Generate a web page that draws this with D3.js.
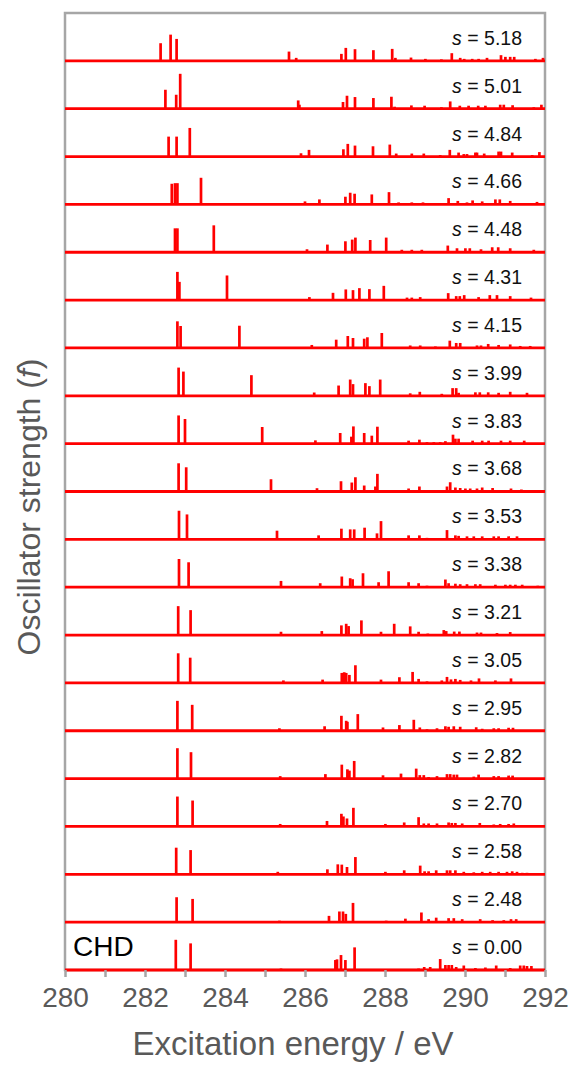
<!DOCTYPE html>
<html>
<head>
<meta charset="utf-8">
<script src="https://cdn.jsdelivr.net/npm/d3@7"></script>
<style>
  body { margin: 0; background: #fff; }
  text { font-family: "Liberation Sans", Arial, sans-serif; }
</style>
</head>
<body>
<div id="chart"></div>
<script>
// panel labels (top to bottom)
var sLabels = ['5.18', '5.01', '4.84', '4.66', '4.48', '4.31', '4.15', '3.99', '3.83', '3.68',
  '3.53', '3.38', '3.21', '3.05', '2.95', '2.82', '2.70', '2.58', '2.48', '0.00'];

// stick spectra: [excitation energy (eV), oscillator strength (x1e-3, arb.)]
var s518 = [[282.39,17.7],[282.64,26.3],[282.79,22],[285.60,9.3],[285.78,3],[286.91,7],[287.02,13],[287.25,11.7],[287.71,10.7],[288.18,12],[288.26,3],[288.65,3.3],[289.01,2],[289.41,1.5],[289.67,7.7],[289.88,3],[289.98,2],[290.18,2],[290.34,2],[290.55,3],[290.90,5.7],[291.01,4],[291.13,4],[291.23,4],[291.76,2],[291.95,3]];
var s501 = [[282.51,19],[282.78,14],[282.88,35],[285.83,8.3],[285.86,4],[286.95,6.7],[287.05,13],[287.25,11.7],[287.71,10.7],[288.16,12],[288.24,2],[288.66,3.3],[288.99,3],[289.41,1.5],[289.63,7.3],[289.87,3],[290.09,3],[290.33,3],[290.51,3],[290.88,4],[290.97,4],[291.19,3.5],[291.72,1.5],[291.91,4]];
var s484 = [[282.59,20],[282.79,20],[283.12,28.7],[285.90,3.3],[286.10,6.7],[286.96,7.3],[287.07,12.7],[287.25,11],[287.70,10.3],[288.12,12],[288.28,3],[288.67,3],[288.97,3],[289.38,1.5],[289.62,6.7],[289.84,4],[289.97,2.5],[290.05,2.5],[290.26,4],[290.30,4],[290.48,3],[290.84,5],[290.90,5],[291.18,4],[291.68,1.5],[291.86,4.5]];
var s466 = [[282.67,20.7],[282.75,21.3],[282.81,21.3],[283.40,26.7],[286.00,3],[286.36,5],[287.01,7.7],[287.13,11.7],[287.24,10.7],[287.67,10],[288.10,12.3],[288.34,2],[288.67,2],[288.95,2],[289.59,6.3],[289.82,3.5],[290.05,2],[290.19,4],[290.43,3],[290.76,5],[290.87,5],[291.13,3.5],[291.80,2.5]];
var s448 = [[282.75,24],[282.81,24],[283.72,27],[286.05,3],[286.56,7.7],[287.01,11],[287.18,12.7],[287.26,14.7],[287.63,12.3],[288.03,14.7],[288.42,2.5],[288.67,2.5],[288.92,2.5],[289.57,6.7],[289.80,4],[290.01,4],[290.12,4],[290.40,3],[290.68,5],[290.83,5],[291.13,4],[291.72,2.5]];
var s431 = [[282.81,28.3],[282.86,18.3],[284.05,24.7],[286.11,3],[286.70,7.3],[287.02,10.7],[287.20,10],[287.36,12],[287.61,11],[287.97,14.3],[288.55,2.5],[288.67,2.5],[288.88,3],[289.58,7],[289.78,4],[289.87,4],[289.98,5],[290.34,3],[290.62,5],[290.80,5],[291.13,4],[291.65,2.5]];
var s415 = [[282.81,26.7],[282.89,22],[284.36,22.3],[286.17,3],[286.78,8.3],[287.07,12],[287.20,10],[287.48,9.3],[287.56,10.7],[287.92,15],[288.63,2.5],[288.88,2.5],[289.26,1.5],[289.62,7.3],[289.78,5],[289.88,5],[290.30,2.5],[290.40,2.5],[290.58,4],[290.84,3],[291.13,3.5],[291.38,2],[291.63,2]];
var s399 = [[282.84,28.3],[282.96,24.3],[284.66,20.7],[286.23,3.3],[286.84,10.3],[287.13,16.3],[287.20,11.7],[287.51,12.7],[287.61,9.7],[287.88,16.3],[288.63,2.5],[288.87,4],[289.42,2],[289.69,7.7],[289.78,7.7],[289.84,3],[290.26,3.5],[290.37,3.5],[290.58,3.5],[290.84,3],[291.13,4],[291.55,3]];
var s383 = [[282.84,28.3],[283.00,24.7],[284.93,16.7],[286.26,3.3],[286.88,10.7],[287.16,7],[287.21,17.3],[287.48,10.7],[287.67,8],[287.81,17],[288.59,3],[288.86,4],[289.05,1.5],[289.22,1.5],[289.38,1.5],[289.51,2.5],[289.70,9],[289.76,5],[289.84,5],[290.19,3],[290.43,3],[290.59,3],[290.90,3],[291.13,3],[291.48,3]];
var s368 = [[282.84,28.3],[283.03,24.3],[285.15,12.3],[286.30,3.3],[286.90,10.3],[287.17,9],[287.26,14.3],[287.48,6],[287.76,5],[287.81,17.7],[288.59,3],[288.86,5],[289.55,5],[289.63,9.3],[289.76,4],[289.88,3.5],[290.01,3],[290.13,3],[290.30,3],[290.43,4],[290.69,3.5],[291.15,3],[291.41,2]];
var s353 = [[282.85,28.7],[283.05,25],[285.30,8.7],[286.34,4],[286.91,10.7],[287.13,10],[287.23,10],[287.49,11.7],[287.80,6],[287.90,18.3],[288.59,4],[288.86,4],[289.05,1.5],[289.55,9.3],[289.76,4],[289.84,3.5],[290.05,3],[290.22,3],[290.43,3],[290.72,3],[290.84,3],[291.09,3],[291.30,3]];
var s338 = [[282.85,28.3],[283.09,25],[285.40,6.3],[286.38,4],[286.92,10.7],[287.13,9],[287.19,8],[287.45,14],[287.84,5],[288.09,16],[288.59,5],[288.84,4],[289.05,1.5],[289.51,7.7],[289.59,4],[289.76,3.5],[289.88,3],[290.05,3],[290.26,3],[290.38,3],[290.76,2.5],[291.01,2.5],[291.13,2.5],[291.26,2.5],[291.43,2.5],[291.82,1.5]];
var s321 = [[282.83,29],[283.14,25],[285.40,3.3],[286.42,4],[286.91,9.7],[287.03,11.3],[287.09,9],[287.41,14.7],[287.90,3.3],[288.23,11.3],[288.63,8.7],[288.84,3.3],[289.07,1.5],[289.47,5],[289.53,4],[289.73,3.5],[289.86,3.5],[290.30,2.5],[290.40,2.5],[290.80,2],[291.13,3]];
var s305 = [[282.83,29.7],[283.13,25.3],[285.46,2.5],[286.44,3.3],[286.92,10],[286.98,10.7],[287.03,10],[287.11,8],[287.26,17.7],[287.90,3.3],[288.36,5.7],[288.69,11],[288.84,4],[289.05,1.5],[289.42,2.5],[289.55,6],[289.65,3.5],[289.76,4],[289.88,3],[290.15,2.5],[290.35,4.5],[290.76,2.5],[291.15,4.5]];
var s295 = [[282.81,30],[283.18,26],[285.36,2.5],[286.49,4.5],[286.91,15],[287.03,10],[287.06,9],[287.32,16.7],[287.95,3.3],[288.36,5.7],[288.72,11],[288.87,3.3],[289.05,1.5],[289.30,2.5],[289.51,4.5],[289.59,4],[289.72,4.5],[289.88,4],[290.28,3.5],[290.43,2],[290.72,2.5],[290.84,2.5],[291.09,3],[291.20,3]];
var s282 = [[282.81,30.5],[283.15,26.5],[285.38,2.5],[286.51,4.5],[286.92,14],[287.06,9.3],[287.11,8],[287.23,17.7],[287.95,3.3],[288.40,5],[288.78,10],[288.87,3.5],[288.97,3.5],[289.09,1.5],[289.30,2.5],[289.55,4.5],[289.63,4.5],[289.72,4],[289.80,4],[290.22,2],[290.34,4],[290.72,2.5],[290.84,2.5],[291.09,3],[291.19,3]];
var s270 = [[282.81,30],[283.19,26],[285.38,2.5],[286.55,5.5],[286.91,12.7],[286.96,10],[287.05,8],[287.21,18.7],[288.01,2.5],[288.48,4],[288.84,9.3],[288.97,3],[289.09,3],[289.30,3],[289.59,4],[289.67,3.5],[289.76,3.5],[289.93,3],[290.37,3.5],[290.72,2],[290.88,2.5],[291.09,2.5],[291.22,3]];
var s258 = [[282.78,26.7],[283.14,24.3],[285.32,2.5],[286.56,5],[286.82,10],[286.92,9.7],[287.05,7.3],[287.26,17.3],[288.01,2.5],[288.48,4],[288.88,8.7],[288.99,3],[289.09,3],[289.28,4],[289.55,4],[289.63,4],[289.76,4],[289.97,2.5],[290.22,2],[290.43,2.5],[290.63,2.5],[290.84,2.5],[291.05,2.5],[291.18,3],[291.30,2.5],[291.43,1.5],[291.55,1.5]];
var s248 = [[282.79,25],[283.19,23.3],[285.36,1.5],[286.60,6.3],[286.86,10.7],[286.95,10.7],[287.02,8.3],[287.20,19.3],[288.03,1.5],[288.51,3.5],[288.91,9.7],[289.09,3],[289.28,4.5],[289.59,4],[289.72,4],[289.93,3],[290.38,3],[290.69,2],[290.97,2],[291.15,3],[291.28,3]];
var s000 = [[282.77,30.3],[283.14,26.7],[285.40,1.5],[286.76,10],[286.80,10.7],[286.90,15],[287.01,10],[287.24,22.7],[288.84,1.5],[288.98,3],[289.13,3],[289.38,11],[289.51,5],[289.59,5],[289.67,5],[289.78,3],[289.97,4.5],[290.26,2],[290.51,2.5],[290.78,4.5],[291.13,2],[291.38,4.5],[291.47,4.5],[291.55,4],[291.66,4]];

var spectra = [s518, s501, s484, s466, s448, s431, s415, s399, s383, s368,
  s353, s338, s321, s305, s295, s282, s270, s258, s248, s000];

// x axis
var xDomain = [280, 292];
var xTicks = d3.range(280, 293, 1);

var W = 574, H = 1067;
var plotLeft = 65, plotRight = 545, plotTop = 13, plotBottom = 970;
var nPanels = sLabels.length;
var panelH = (plotBottom - plotTop) / nPanels;

var svg = d3.select("#chart").append("svg").attr("width", W).attr("height", H);

var x = d3.scaleLinear().domain(xDomain).range([plotLeft, plotRight]);
var y = d3.scaleLinear().domain([0, 48]).range([panelH, 0]);

// frame
svg.append("rect")
  .attr("x", plotLeft).attr("y", plotTop)
  .attr("width", plotRight - plotLeft).attr("height", plotBottom - plotTop)
  .attr("fill", "none").attr("stroke", "#a6a6a6").attr("stroke-width", 2.5);

var panels = svg.selectAll("g.panel").data(spectra).enter().append("g")
  .attr("class", "panel")
  .attr("transform", function(d, i) { return "translate(0," + (plotTop + i * panelH) + ")"; });

panels.selectAll("line.stick").data(function(d) { return d; }).enter().append("line")
  .attr("class", "stick")
  .attr("x1", function(d) { return x(d[0]); }).attr("x2", function(d) { return x(d[0]); })
  .attr("y1", y(0)).attr("y2", function(d) { return y(d[1]); })
  .attr("stroke", "#ff0000").attr("stroke-width", 2.7);

panels.append("line")
  .attr("x1", plotLeft).attr("x2", plotRight)
  .attr("y1", y(0)).attr("y2", y(0))
  .attr("stroke", "#ff0000").attr("stroke-width", 2.8);

// s labels
var lab = panels.append("text")
  .attr("x", 522).attr("y", y(0) - 16)
  .attr("text-anchor", "end")
  .attr("font-size", 19.5).attr("fill", "#111");
lab.append("tspan").attr("font-style", "italic").text("s");
lab.append("tspan").text(function(d, i) { return " = " + sLabels[i]; });

svg.append("text").attr("x", 73).attr("y", 956)
  .attr("font-size", 28).attr("fill", "#000").text("CHD");

// bottom axis
var xAxis = d3.axisBottom(x).tickValues(xTicks).tickSize(7).tickPadding(10)
  .tickFormat(function(d) { return d % 2 === 0 ? d : ""; });
var ax = svg.append("g").attr("transform", "translate(0," + plotBottom + ")").call(xAxis);
ax.select(".domain").remove();
ax.selectAll(".tick line").attr("stroke", "#a6a6a6").attr("stroke-width", 2.5);
ax.selectAll(".tick text").attr("font-size", 28).attr("fill", "#595959")
  .attr("font-family", "Liberation Sans, Arial, sans-serif");

svg.append("text").attr("x", 293).attr("y", 1055)
  .attr("text-anchor", "middle").attr("font-size", 33).attr("fill", "#595959")
  .text("Excitation energy / eV");

var yt = svg.append("text")
  .attr("transform", "translate(40,507) rotate(-90)")
  .attr("text-anchor", "middle").attr("font-size", 32).attr("fill", "#595959");
yt.append("tspan").text("Oscillator strength (");
yt.append("tspan").attr("font-style", "italic").text("f");
yt.append("tspan").text(")");
</script>
</body>
</html>
